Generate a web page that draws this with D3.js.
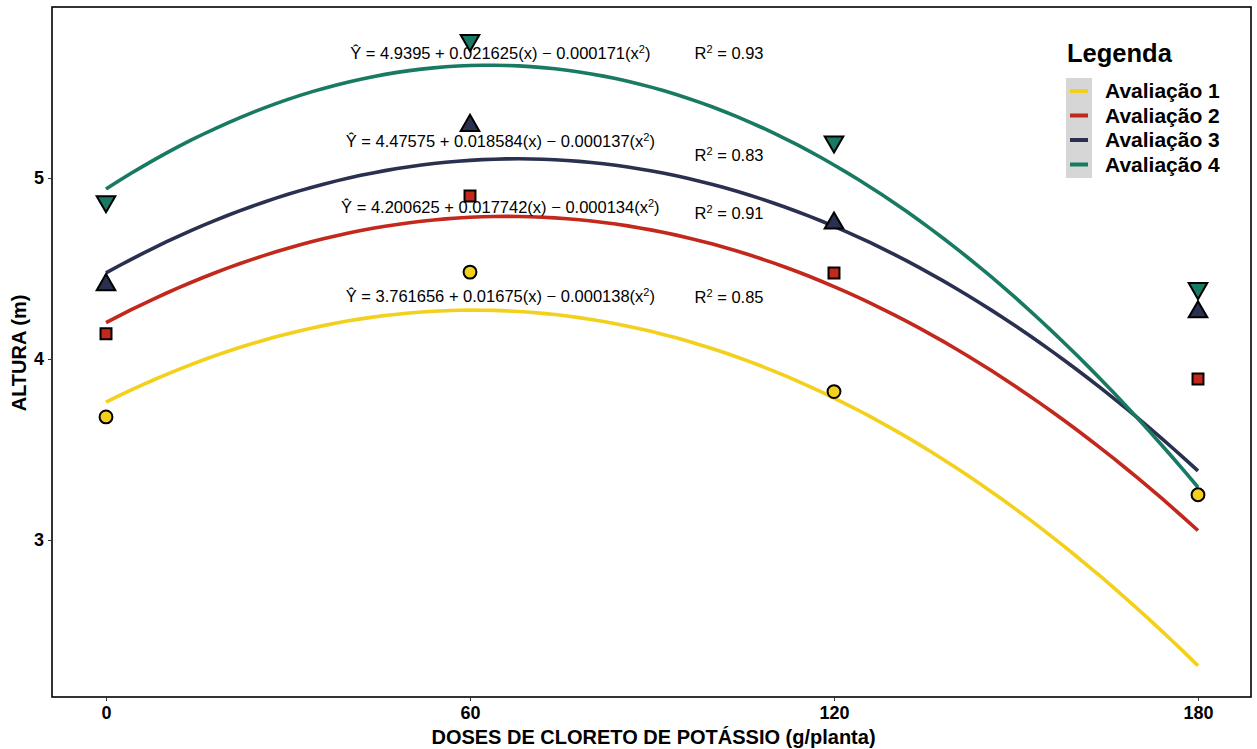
<!DOCTYPE html>
<html>
<head>
<meta charset="utf-8">
<script src="https://cdn.jsdelivr.net/npm/d3@7"></script>
<style>
  body { margin: 0; background: #fff; }
  text { font-family: "Liberation Sans", Arial, sans-serif; }
</style>
</head>
<body>
<div id="chart"></div>
<script>
var doses = [0, 60, 120, 180];
var seriesNames = ["Avaliação 1", "Avaliação 2", "Avaliação 3", "Avaliação 4"];
var aval1 = [3.68, 4.48, 3.82, 3.25];
var aval2 = [4.14, 4.90, 4.475, 3.89];
var aval3 = [4.41, 5.29, 4.75, 4.26];
var aval4 = [4.87, 5.76, 5.20, 4.39];

// printed regression coefficients  Y = a + b x - c x^2
var coefA = [3.761656, 4.200625, 4.47575, 4.9395];
var coefB = [0.01675, 0.017742, 0.018584, 0.021625];
var coefC = [0.000138, 0.000134, 0.000137, 0.000171];
var r2 = ["0.85", "0.91", "0.83", "0.93"];
var coefAtxt = ["3.761656", "4.200625", "4.47575", "4.9395"];
var coefBtxt = ["0.01675", "0.017742", "0.018584", "0.021625"];
var coefCtxt = ["0.000138", "0.000134", "0.000137", "0.000171"];

var xTicks = [0, 60, 120, 180];
var yTicks = [3, 4, 5];

var colors = ["#f3d01c", "#c3281d", "#2a3150", "#187a63"];
var shapes = ["circle", "square", "up", "down"];

var width = 1257, height = 749;
var panel = {left: 52, right: 1251, top: 7, bottom: 697};

var x = d3.scaleLinear().domain([0, 180]).range([106, 1198]);
var y = d3.scaleLinear().domain([3, 5]).range([540, 178]);

// where the equation / R2 labels sit (data units)
var eqX = 65, r2X = 102.7;
var eqY = [4.315, 4.807, 5.171, 5.657];
var r2Y = [4.309, 4.773, 5.094, 5.657];

var svg = d3.select("#chart").append("svg")
    .attr("width", width)
    .attr("height", height);

svg.append("rect")
    .attr("x", panel.left).attr("y", panel.top)
    .attr("width", panel.right - panel.left)
    .attr("height", panel.bottom - panel.top)
    .attr("fill", "none")
    .attr("stroke", "#000")
    .attr("stroke-width", 1.6);

// axes
var xAxis = d3.axisBottom(x).tickValues(xTicks).tickSize(4).tickPadding(5);
var yAxis = d3.axisLeft(y).tickValues(yTicks).tickFormat(d3.format("d")).tickSize(4).tickPadding(4);

var gx = svg.append("g").attr("transform", "translate(0," + panel.bottom + ")").call(xAxis);
var gy = svg.append("g").attr("transform", "translate(" + panel.left + ",0)").call(yAxis);
[gx, gy].forEach(function(g) {
  g.select(".domain").remove();
  g.selectAll(".tick line").attr("stroke", "#333");
  g.selectAll(".tick text")
    .attr("fill", "#000")
    .style("font-size", "18px")
    .style("font-weight", "bold")
    .style("font-family", "'Liberation Sans', Arial, sans-serif");
});

svg.append("text")
    .attr("x", (panel.left + panel.right) / 2 + 2)
    .attr("y", 744)
    .attr("text-anchor", "middle")
    .style("font-size", "20px")
    .style("font-weight", "bold")
    .text("DOSES DE CLORETO DE POTÁSSIO (g/planta)");

svg.append("text")
    .attr("transform", "translate(26,353) rotate(-90)")
    .attr("text-anchor", "middle")
    .style("font-size", "20px")
    .style("font-weight", "bold")
    .text("ALTURA (m)");

// fitted curves
var line = d3.line()
    .x(function(d) { return x(d[0]); })
    .y(function(d) { return y(d[1]); });

var grid = d3.range(0, 181, 2);
seriesNames.forEach(function(name, i) {
  var pts = grid.map(function(v) { return [v, coefA[i] + coefB[i] * v - coefC[i] * v * v]; });
  svg.append("path")
      .datum(pts)
      .attr("d", line)
      .attr("fill", "none")
      .attr("stroke", colors[i])
      .attr("stroke-width", 3.6);
});

// equation labels
seriesNames.forEach(function(name, i) {
  var t = svg.append("text")
      .attr("x", x(eqX))
      .attr("y", y(eqY[i]))
      .attr("text-anchor", "middle")
      .style("font-size", "16.5px");
  t.append("tspan").text("Ŷ = " + coefAtxt[i] + " + " + coefBtxt[i] + "(x) − " + coefCtxt[i] + "(x");
  t.append("tspan").attr("dy", -6).style("font-size", "11px").text("2");
  t.append("tspan").attr("dy", 6).text(")");

  var r = svg.append("text")
      .attr("x", x(r2X))
      .attr("y", y(r2Y[i]))
      .attr("text-anchor", "middle")
      .style("font-size", "16.5px");
  r.append("tspan").text("R");
  r.append("tspan").attr("dy", -6).style("font-size", "11px").text("2");
  r.append("tspan").attr("dy", 6).text(" = " + r2[i]);
});

// observed points
var allVals = [aval1, aval2, aval3, aval4];
function symbolFor(s) {
  if (s === "circle") return d3.symbol().type(d3.symbolCircle).size(130)();
  if (s === "square") return d3.symbol().type(d3.symbolSquare).size(120)();
  return d3.symbol().type(d3.symbolTriangle).size(150)();
}
allVals.forEach(function(vals, i) {
  svg.append("g").selectAll("path")
      .data(vals)
      .enter().append("path")
      .attr("d", symbolFor(shapes[i]))
      .attr("transform", function(d, j) {
        return "translate(" + x(doses[j]) + "," + y(d) + ")" + (shapes[i] === "down" ? " rotate(180)" : "");
      })
      .attr("fill", colors[i])
      .attr("stroke", "#000")
      .attr("stroke-width", 2);
});

// legend
var lg = svg.append("g").attr("transform", "translate(1066,0)");
lg.append("text")
    .attr("x", 1).attr("y", 62)
    .style("font-size", "25.5px")
    .style("font-weight", "bold")
    .text("Legenda");
lg.append("rect")
    .attr("x", 0).attr("y", 78)
    .attr("width", 26).attr("height", 100)
    .attr("fill", "#d6d6d6");
seriesNames.forEach(function(name, i) {
  var yy = 91 + i * 24.5;
  lg.append("line")
      .attr("x1", 4).attr("x2", 22)
      .attr("y1", yy).attr("y2", yy)
      .attr("stroke", colors[i])
      .attr("stroke-width", 4);
  lg.append("text")
      .attr("x", 39).attr("y", yy + 7)
      .style("font-size", "21px")
      .style("font-weight", "bold")
      .text(name);
});
</script>
</body>
</html>
